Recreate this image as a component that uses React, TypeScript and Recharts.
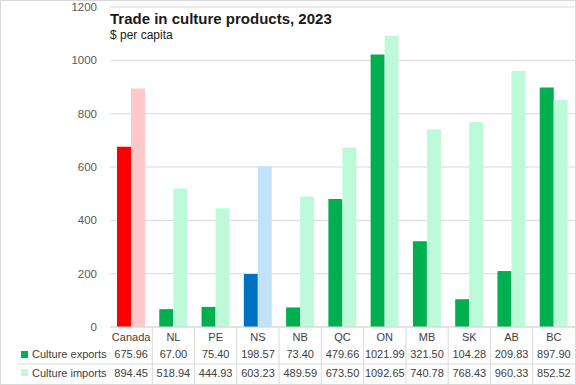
import React from "react";
import { BarChart, Bar, XAxis, YAxis, CartesianGrid, Cell } from "recharts";

const regions = ["Canada", "NL", "PE", "NS", "NB", "QC", "ON", "MB", "SK", "AB", "BC"];
const exportsPerCapita = [675.96, 67.0, 75.4, 198.57, 73.4, 479.66, 1021.99, 321.5, 104.28, 209.83, 897.9];
const importsPerCapita = [894.45, 518.94, 444.93, 603.23, 489.59, 673.5, 1092.65, 740.78, 768.43, 960.33, 852.52];
const yTicks = [0, 200, 400, 600, 800, 1000, 1200];

const data = regions.map((region, i) => ({
  region,
  exports: exportsPerCapita[i],
  imports: importsPerCapita[i],
}));

const W = 576;
const H = 385;
const PLOT_LEFT = 110;
const PLOT_RIGHT = 1;
const BAND = (W - PLOT_LEFT - PLOT_RIGHT) / regions.length;
const FONT = "'Liberation Sans', Arial, sans-serif";

function exportColor(region: string) {
  if (region === "Canada") return "#FF0000";
  if (region === "NS") return "#0070C0";
  return "#00B050";
}

function importColor(region: string) {
  if (region === "Canada") return "#FFC9C9";
  if (region === "NS") return "#C2E2FA";
  return "#BCFADA";
}

// x-axis tick doubles as the data table under the chart
function TableTick(props: any) {
  const { x, y, payload, index } = props;
  const i = index as number;
  const txt = { fontSize: 11, fill: "#404040", fontFamily: FONT, textAnchor: "middle" as const };
  return (
    <g>
      {i === 0 && (
        <g>
          <line x1={17} x2={W - 1} y1={y + 37} y2={y + 37} stroke="#d9d9d9" />
          <rect x={21} y={y + 24} width={7} height={7} fill="#00B050" />
          <text x={32} y={y + 31} fontSize={11} fill="#404040" fontFamily={FONT}>
            Culture exports
          </text>
          <rect x={21} y={y + 42} width={7} height={7} fill="#BCFADA" />
          <text x={32} y={y + 50} fontSize={11} fill="#404040" fontFamily={FONT}>
            Culture imports
          </text>
        </g>
      )}
      {i < regions.length - 1 && (
        <line x1={x + BAND / 2} x2={x + BAND / 2} y1={y} y2={H - 1} stroke="#d9d9d9" />
      )}
      <text x={x} y={y + 14} {...txt}>
        {payload.value}
      </text>
      <text x={x} y={y + 31} {...txt}>
        {exportsPerCapita[i].toFixed(2)}
      </text>
      <text x={x} y={y + 50} {...txt}>
        {importsPerCapita[i].toFixed(2)}
      </text>
    </g>
  );
}

export default function App() {
  return (
    <div style={{ position: "relative", width: W, height: H, background: "#fff", fontFamily: FONT }}>
      <style>{`body{margin:0}`}</style>
      <BarChart
        width={W}
        height={H}
        data={data}
        margin={{ top: 7, right: PLOT_RIGHT, bottom: 0, left: 0 }}
        barGap={0}
      >
        <CartesianGrid vertical={false} stroke="#d9d9d9" />
        <XAxis
          dataKey="region"
          height={58}
          axisLine={{ stroke: "#d9d9d9" }}
          tickLine={false}
          tickSize={0}
          tickMargin={0}
          interval={0}
          tick={<TableTick />}
        />
        <YAxis
          width={PLOT_LEFT}
          domain={[0, 1200]}
          ticks={yTicks}
          axisLine={false}
          tickLine={false}
          tickSize={0}
          tickMargin={13}
          tick={{ fontSize: 11.5, fill: "#595959", fontFamily: FONT }}
        />
        <Bar dataKey="exports" barSize={14} isAnimationActive={false}>
          {data.map((d) => (
            <Cell key={d.region} fill={exportColor(d.region)} />
          ))}
        </Bar>
        <Bar dataKey="imports" barSize={14} isAnimationActive={false}>
          {data.map((d) => (
            <Cell key={d.region} fill={importColor(d.region)} />
          ))}
        </Bar>
      </BarChart>
      <div
        style={{
          position: "absolute",
          left: 110,
          top: 10,
          fontSize: 15,
          fontWeight: "bold",
          color: "#1a1a1a",
          lineHeight: "17px",
          background: "#fff",
          paddingRight: 4,
        }}
      >
        Trade in culture products, 2023
      </div>
      <div
        style={{
          position: "absolute",
          left: 110,
          top: 28,
          fontSize: 12,
          color: "#1a1a1a",
          lineHeight: "14px",
        }}
      >
        $ per capita
      </div>
      <div
        style={{
          position: "absolute",
          left: 0,
          top: 0,
          width: W,
          height: H,
          boxSizing: "border-box",
          border: "1px solid #d9d9d9",
          pointerEvents: "none",
        }}
      />
    </div>
  );
}
